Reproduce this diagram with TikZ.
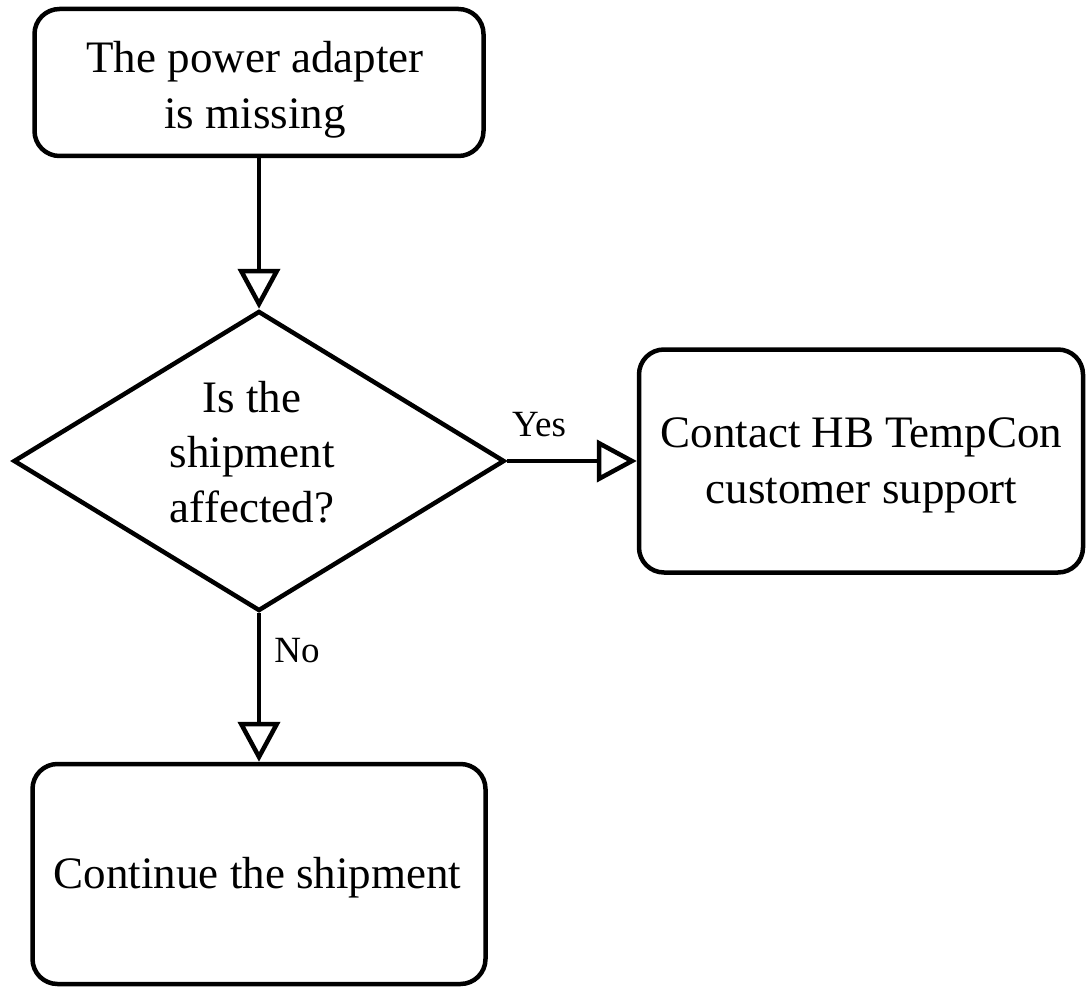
\documentclass[tikz,border=0pt]{standalone}
\usepackage{fontspec}
\setmainfont{Liberation Serif}
\usetikzlibrary{arrows.meta,shapes.geometric}
\begin{document}
\begin{tikzpicture}[x=1pt,y=-1pt,
  box/.style={draw, line width=4.5pt, rounded corners=25pt, inner sep=0pt},
  txt/.style={font=\fontsize{45}{56}\selectfont, align=center, inner sep=0pt},
  lbl/.style={font=\fontsize{37}{44}\selectfont, inner sep=0pt},
  flow/.style={line width=4.5pt, -{Triangle[length=40pt, width=42pt, fill=white]}}]
\useasboundingbox (0,0) rectangle (1086,987);
% boxes
\node[box, minimum width=449pt, minimum height=147pt] (start) at (259,82.5) {};
\node[draw, diamond, line width=4.5pt, minimum width=491pt, minimum height=300pt, inner sep=0pt] (dec) at (259,461) {};
\node[box, minimum width=444pt, minimum height=223pt] (sup) at (861,461) {};
\node[box, minimum width=453pt, minimum height=220pt] (cont) at (259,874) {};
% texts
\node[txt] (starttxt) at (255,89.5) {The power adapter\\is missing};
\node[txt, font=\fontsize{45}{55}\selectfont] (dectxt) at (252,452.5) {Is the\\shipment\\affected?};
\node[txt] (suptxt) at (861.5,465.5) {Contact HB TempCon\\customer support};
\node[txt] (conttxt) at (257.5,877.5) {Continue the shipment};
% connectors
\draw[flow] (start.south) -- (dec.north);
\draw[flow] (dec.east) -- (sup.west);
\draw[flow] (dec.south) -- (cont.north);
% labels
\node[lbl] (yes) at (539,425) {Yes};
\node[lbl] (no) at (297,651) {No};
\end{tikzpicture}
\end{document}
